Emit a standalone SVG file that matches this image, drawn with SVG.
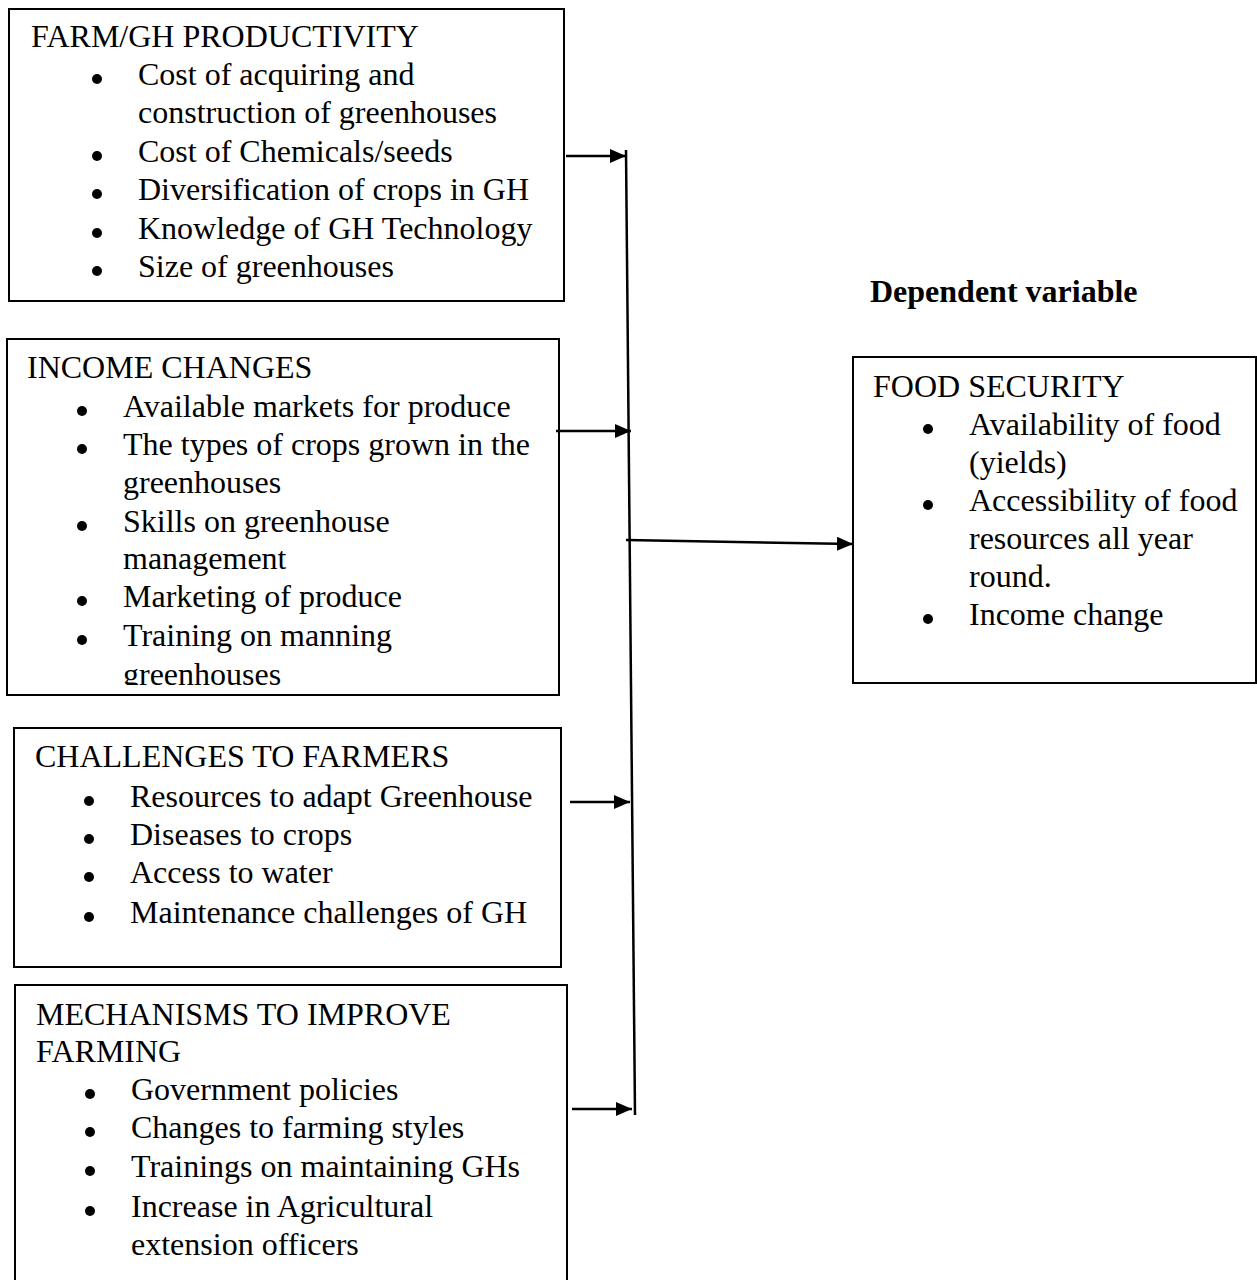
<svg xmlns="http://www.w3.org/2000/svg" width="1257" height="1280" viewBox="0 0 1257 1280">
<style>
  .box { fill: #ffffff; stroke: #000000; stroke-width: 2; }
  .t { font-family: "Liberation Serif", "Times New Roman", serif; font-size: 32px; fill: #000000; }
  .bold { font-family: "Liberation Serif", "Times New Roman", serif; font-size: 32px; font-weight: bold; fill: #000000; }
  .dot { fill: #000000; }
  .conn { stroke: #000000; stroke-width: 2.5; fill: none; }
</style>
<defs>
  <marker id="ah" markerWidth="16" markerHeight="14" refX="16" refY="7" orient="auto" markerUnits="userSpaceOnUse">
    <polygon points="0,0 16,7 0,14" fill="#000000"/>
  </marker>
  <clipPath id="clip2">
    <rect x="7" y="339" width="552" height="346"/>
  </clipPath>
</defs>
<rect width="1257" height="1280" fill="#ffffff"/>

<g id="node-farm">
  <rect class="box" x="9" y="9" width="555" height="292"/>
  <text class="t" x="31" y="47">FARM/GH PRODUCTIVITY</text>
  <circle class="dot" cx="97" cy="79" r="5"/>
  <text class="t" x="138" y="85">Cost of acquiring and</text>
  <text class="t" x="138" y="123">construction of greenhouses</text>
  <circle class="dot" cx="97" cy="156" r="5"/>
  <text class="t" x="138" y="162">Cost of Chemicals/seeds</text>
  <circle class="dot" cx="97" cy="194" r="5"/>
  <text class="t" x="138" y="200">Diversification of crops in GH</text>
  <circle class="dot" cx="97" cy="233" r="5"/>
  <text class="t" x="138" y="239">Knowledge of GH Technology</text>
  <circle class="dot" cx="97" cy="271" r="5"/>
  <text class="t" x="138" y="277">Size of greenhouses</text>
</g>

<g id="node-income">
  <rect class="box" x="7" y="339" width="552" height="356"/>
  <g clip-path="url(#clip2)">
    <text class="t" x="27" y="378">INCOME CHANGES</text>
    <circle class="dot" cx="82" cy="411" r="5"/>
    <text class="t" x="123" y="417">Available markets for produce</text>
    <circle class="dot" cx="82" cy="449" r="5"/>
    <text class="t" x="123" y="455">The types of crops grown in the</text>
    <text class="t" x="123" y="493">greenhouses</text>
    <circle class="dot" cx="82" cy="526" r="5"/>
    <text class="t" x="123" y="532">Skills on greenhouse</text>
    <text class="t" x="123" y="569">management</text>
    <circle class="dot" cx="82" cy="601" r="5"/>
    <text class="t" x="123" y="607">Marketing of produce</text>
    <circle class="dot" cx="82" cy="640" r="5"/>
    <text class="t" x="123" y="646">Training on manning</text>
    <text class="t" x="123" y="685">greenhouses</text>
  </g>
</g>

<g id="node-challenges">
  <rect class="box" x="14" y="728" width="547" height="239"/>
  <text class="t" x="35" y="767">CHALLENGES TO FARMERS</text>
  <circle class="dot" cx="89" cy="801" r="5"/>
  <text class="t" x="130" y="807">Resources to adapt Greenhouse</text>
  <circle class="dot" cx="89" cy="839" r="5"/>
  <text class="t" x="130" y="845">Diseases to crops</text>
  <circle class="dot" cx="89" cy="877" r="5"/>
  <text class="t" x="130" y="883">Access to water</text>
  <circle class="dot" cx="89" cy="917" r="5"/>
  <text class="t" x="130" y="923">Maintenance challenges of GH</text>
</g>

<g id="node-mechanisms">
  <rect class="box" x="15" y="985" width="552" height="320"/>
  <text class="t" x="36" y="1025">MECHANISMS TO IMPROVE</text>
  <text class="t" x="36" y="1062">FARMING</text>
  <circle class="dot" cx="90" cy="1094" r="5"/>
  <text class="t" x="131" y="1100">Government policies</text>
  <circle class="dot" cx="90" cy="1132" r="5"/>
  <text class="t" x="131" y="1138">Changes to farming styles</text>
  <circle class="dot" cx="90" cy="1171" r="5"/>
  <text class="t" x="131" y="1177">Trainings on maintaining GHs</text>
  <circle class="dot" cx="90" cy="1211" r="5"/>
  <text class="t" x="131" y="1217">Increase in Agricultural</text>
  <text class="t" x="131" y="1255">extension officers</text>
</g>

<g id="label-dependent">
  <text class="bold" x="870" y="302">Dependent variable</text>
</g>

<g id="node-food">
  <rect class="box" x="853" y="357" width="403" height="326"/>
  <text class="t" x="873" y="397">FOOD SECURITY</text>
  <circle class="dot" cx="928" cy="429" r="5"/>
  <text class="t" x="969" y="435">Availability of food</text>
  <text class="t" x="969" y="473">(yields)</text>
  <circle class="dot" cx="928" cy="505" r="5"/>
  <text class="t" x="969" y="511">Accessibility of food</text>
  <text class="t" x="969" y="549">resources all year</text>
  <text class="t" x="969" y="587">round.</text>
  <circle class="dot" cx="928" cy="619" r="5"/>
  <text class="t" x="969" y="625">Income change</text>
</g>

<g id="connectors">
  <line class="conn" x1="626" y1="150" x2="635" y2="1115" stroke-width="2"/>
  <line class="conn" x1="566" y1="156" x2="626" y2="156" marker-end="url(#ah)"/>
  <line class="conn" x1="556" y1="431" x2="631" y2="431" marker-end="url(#ah)"/>
  <line class="conn" x1="570" y1="802" x2="630" y2="802" marker-end="url(#ah)"/>
  <line class="conn" x1="572" y1="1109" x2="632" y2="1109" marker-end="url(#ah)"/>
  <line class="conn" x1="626" y1="540" x2="853" y2="544" marker-end="url(#ah)"/>
</g>
</svg>
